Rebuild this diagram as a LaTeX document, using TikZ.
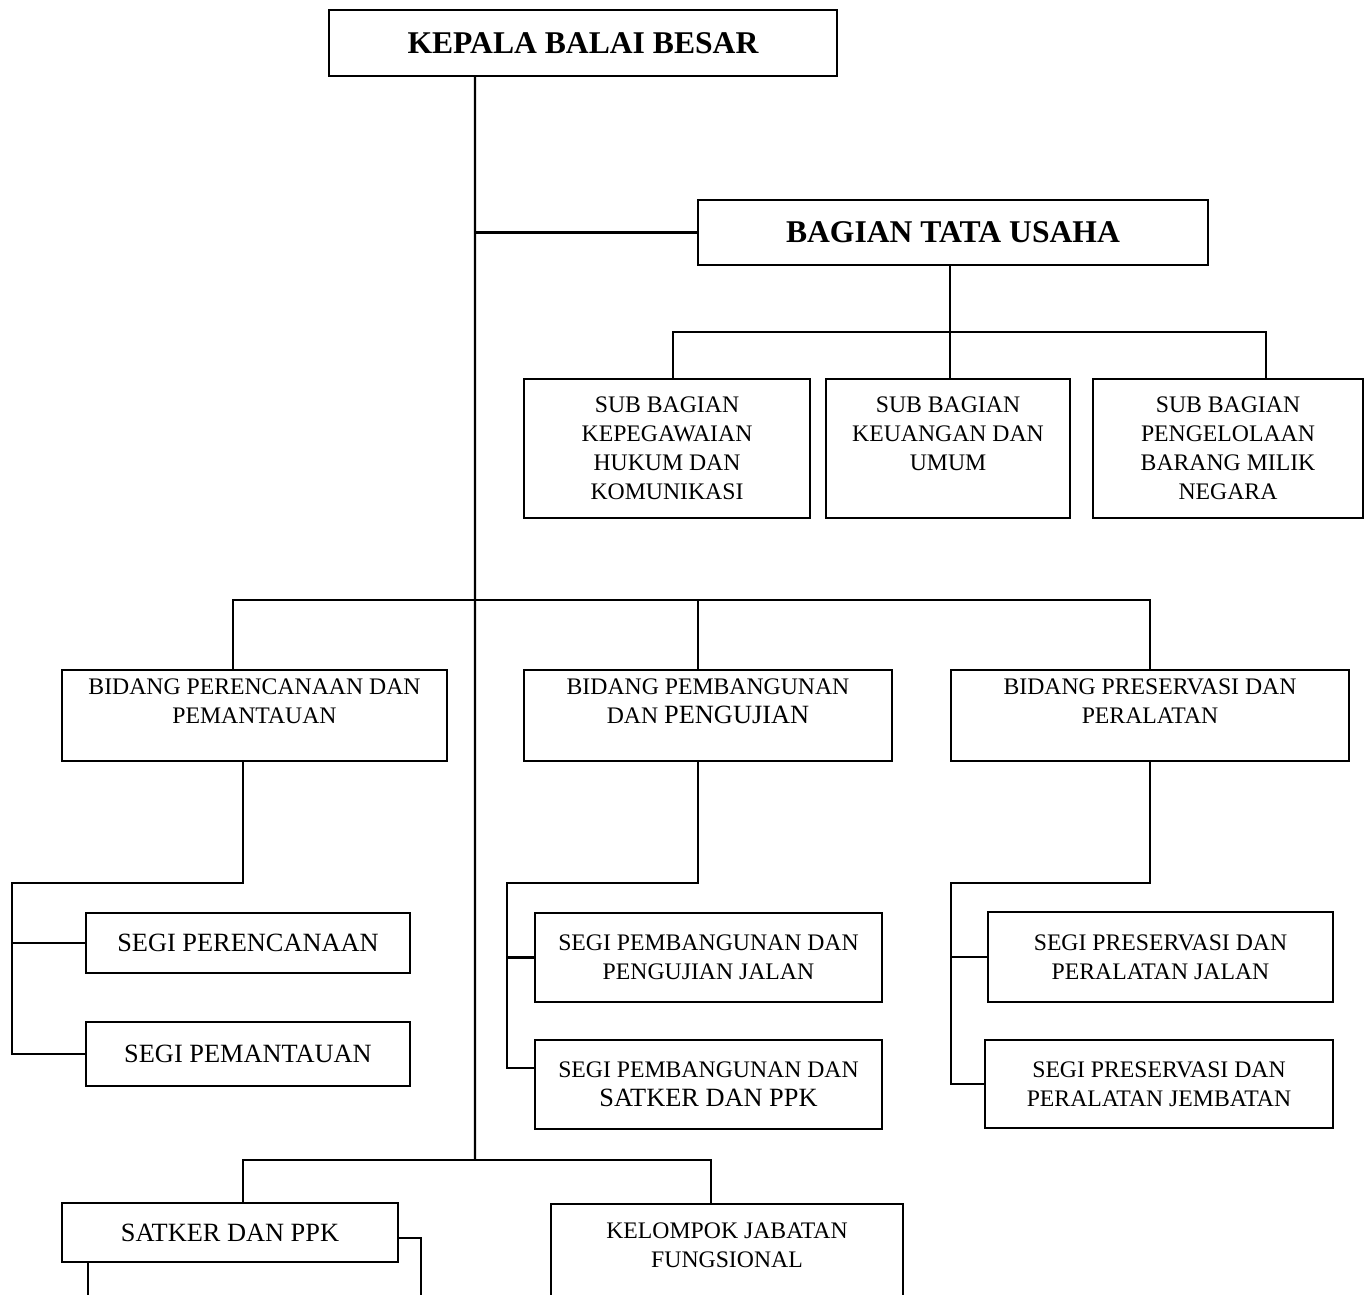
\documentclass[tikz,border=0pt]{standalone}
\usepackage{fontspec}
\setmainfont{Liberation Serif}
\usepackage{xcolor}
\usepackage{tikz}
\usetikzlibrary{positioning}

\begin{document}
\begin{tikzpicture}[
    every node/.style={inner sep=0pt},
    box/.style={draw=black, line width=1.2pt, fill=white, align=center,
        font=\fontsize{13.5}{16.6}\selectfont},
    boxbig/.style={box, font=\fontsize{15}{17}\selectfont},
    boxhead/.style={box, font=\fontsize{18}{21}\selectfont\bfseries},
    txt/.style={align=center, font=\fontsize{13.5}{16.6}\selectfont},
    link/.style={draw=black, line width=1.2pt}
]

\useasboundingbox (0,0) rectangle (27.36,-25.88);
\clip (0,0) rectangle (27.36,-25.88);

% Head and trunk
\node[boxhead, minimum width=10.16cm, minimum height=1.32cm] (kepala) at (11.66,-0.86) {KEPALA BALAI BESAR};
\coordinate (trunk-top) at ([xshift=-2.16cm]kepala.south);
\coordinate (trunk-end) at (9.5,-23.2);
\draw[link] (trunk-top) -- (trunk-end);

% Bagian tata usaha
\node[boxhead, minimum width=10.2cm, minimum height=1.3cm] (tatausaha) at (19.06,-4.65) {BAGIAN TATA USAHA};
\draw[link] (tatausaha.west) -- (tatausaha.west -| trunk-top);

% Sub bagian row
\node[box, minimum width=5.72cm, minimum height=2.78cm] (sub-kepeg) at (13.34,-8.97) {};
\node[box, minimum width=4.88cm, minimum height=2.78cm] (sub-keu) at (18.96,-8.97) {};
\node[box, minimum width=5.4cm, minimum height=2.78cm] (sub-bmn) at (24.56,-8.97) {};
\node[txt, anchor=north] (sub-kepeg-t) at ([yshift=-0.36cm]sub-kepeg.north) {SUB BAGIAN\\KEPEGAWAIAN\\HUKUM DAN\\KOMUNIKASI};
\node[txt, anchor=north] (sub-keu-t) at ([yshift=-0.36cm]sub-keu.north) {SUB BAGIAN\\KEUANGAN DAN\\UMUM};
\node[txt, anchor=north] (sub-bmn-t) at ([yshift=-0.36cm]sub-bmn.north) {SUB BAGIAN\\PENGELOLAAN\\BARANG MILIK\\NEGARA};

\coordinate (tu-bar) at (19.0,-6.64);
\draw[link] ([xshift=-0.06cm]tatausaha.south) -- (tu-bar);
\draw[link] ([xshift=0.12cm]sub-kepeg.north) |- (tu-bar);
\draw[link] ([xshift=0.76cm]sub-bmn.north) |- (tu-bar);
\draw[link] (tu-bar) -- (tu-bar |- sub-keu.north);

% Bidang row
\coordinate (bidang-bar) at (9.5,-12.0);
\node[box, minimum width=7.7cm, minimum height=1.82cm] (bid-ren) at (5.09,-14.31) {};
\node[box, minimum width=7.36cm, minimum height=1.82cm] (bid-bang) at (14.16,-14.31) {};
\node[box, minimum width=7.96cm, minimum height=1.82cm] (bid-pres) at (23.0,-14.31) {};
\node[txt, anchor=north] (bid-ren-t) at ([yshift=-0.18cm]bid-ren.north) {BIDANG PERENCANAAN DAN\\PEMANTAUAN};
\node[txt, anchor=north] (bid-bang-t) at ([yshift=-0.18cm]bid-bang.north) {BIDANG PEMBANGUNAN\\DAN {\fontsize{15}{16.6}\selectfont PENGUJIAN}};
\node[txt, anchor=north] (bid-pres-t) at ([yshift=-0.18cm]bid-pres.north) {BIDANG PRESERVASI DAN\\PERALATAN};

\draw[link] ([xshift=-0.43cm]bid-ren.north) |- (bid-pres.north |- bidang-bar) -- (bid-pres.north);
\draw[link] ([xshift=-0.2cm]bid-bang.north) -- ([xshift=-0.2cm]bid-bang.north |- bidang-bar);

% Segi under perencanaan
\node[boxbig, minimum width=6.48cm, minimum height=1.2cm] (segi-ren) at (4.96,-18.86) {SEGI PERENCANAAN};
\node[boxbig, minimum width=6.48cm, minimum height=1.28cm] (segi-pan) at (4.96,-21.08) {SEGI PEMANTAUAN};
\coordinate (ren-bar) at (0.24,-17.66);
\draw[link] ([xshift=-0.23cm]bid-ren.south) |- (ren-bar) |- (segi-pan.west);
\draw[link] (segi-ren.west) -- (segi-ren.west -| ren-bar);

% Segi under pembangunan
\node[box, minimum width=6.94cm, minimum height=1.78cm] (segi-jln) at (14.17,-19.15) {SEGI PEMBANGUNAN DAN\\PENGUJIAN JALAN};
\node[box, minimum width=6.94cm, minimum height=1.78cm] (segi-ppk) at (14.17,-21.69) {SEGI PEMBANGUNAN DAN\\{\fontsize{15}{17}\selectfont SATKER DAN PPK}};
\coordinate (bang-bar) at (10.14,-17.66);
\draw[link] ([xshift=-0.2cm]bid-bang.south) |- (bang-bar) |- ([yshift=0.33cm]segi-ppk.west);
\draw[link] (segi-jln.west) -- (segi-jln.west -| bang-bar);

% Segi under preservasi
\node[box, minimum width=6.9cm, minimum height=1.8cm] (segi-pjln) at (23.21,-19.14) {SEGI PRESERVASI DAN\\PERALATAN JALAN};
\node[box, minimum width=6.96cm, minimum height=1.76cm] (segi-pjbt) at (23.18,-21.68) {SEGI PRESERVASI DAN\\PERALATAN JEMBATAN};
\coordinate (pres-bar) at (19.02,-17.66);
\draw[link] (bid-pres.south) |- (pres-bar) |- (segi-pjbt.west);
\draw[link] (segi-pjln.west) -- (segi-pjln.west -| pres-bar);

% Bottom row
\node[boxbig, minimum width=6.72cm, minimum height=1.18cm] (satker) at (4.6,-24.65) {SATKER DAN PPK};
\node[box, minimum width=7.04cm, minimum height=2.6cm, anchor=north] (kelompok) at (14.54,-24.06) {};
\node[txt, anchor=north] (kelompok-t) at ([yshift=-0.38cm]kelompok.north) {KELOMPOK JABATAN\\FUNGSIONAL};
\draw[link] ([xshift=0.26cm]satker.north) |- (trunk-end) -| ([xshift=-0.32cm]kelompok.north);

% Lines running off the page
\coordinate (cut-left) at (1.76,-26.2);
\coordinate (cut-right) at (8.42,-26.2);
\draw[link] (satker.south -| cut-left) -- (cut-left);
\draw[link] ([yshift=-0.11cm]satker.east) -| (cut-right);

\end{tikzpicture}
\end{document}
